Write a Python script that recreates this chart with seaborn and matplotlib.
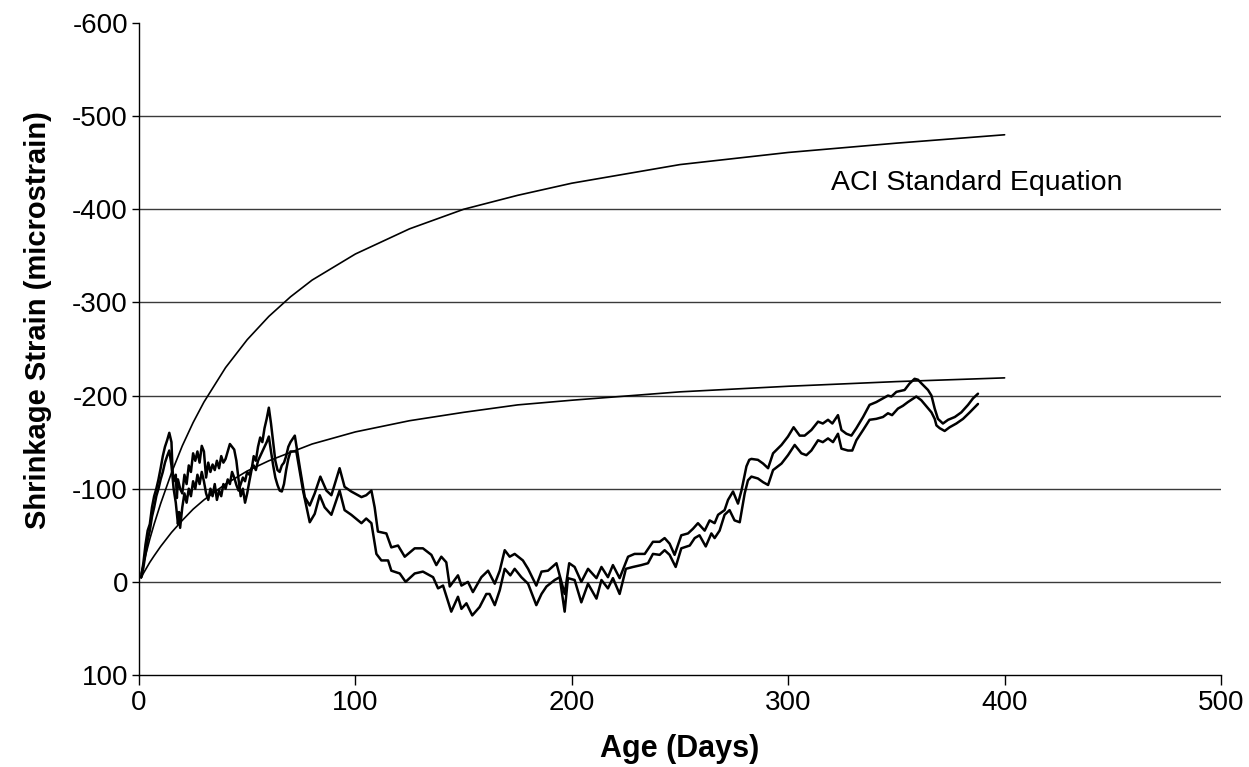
import matplotlib
matplotlib.use("Agg")
import matplotlib.pyplot as plt
import pandas as pd
import seaborn as sns

# ACI standard equation curves (ultimate shrinkage, two cases)
aci_days = [1, 2, 3, 5, 7, 10, 15, 20, 25, 30, 40, 50, 60, 70, 80, 100,
            125, 150, 175, 200, 250, 300, 350, 400]
aci_upper = [-9, -19, -28, -46, -62, -84, -117, -146, -171, -193, -230, -260,
             -285, -306, -324, -352, -379, -400, -415, -428, -448, -461, -471, -480]
aci_lower = [-4, -9, -13, -21, -28, -38, -53, -66, -78, -88, -105, -119,
             -130, -139, -148, -161, -173, -182, -190, -195, -204, -210, -215, -219]

# Measured gauge 1
gauge1_days = [1, 2, 3, 4, 5, 6, 7, 8, 9, 10, 11, 12, 13, 14, 15, 15.5, 16, 17, 17.5,
               18, 19, 20, 21, 22, 23, 24, 25, 26, 27, 28, 29, 30, 31, 32, 33, 34, 35,
               36, 37, 38, 39, 40, 41, 42, 43, 44, 45, 46, 47, 48, 49, 50, 51, 52, 53,
               54, 55, 56, 57, 58, 59, 60, 61, 62, 63, 64, 65, 66, 67, 68, 69, 70, 72,
               74.3, 76.6, 78.9, 81.2, 83.8, 86.6, 88.9, 92.7, 95, 98.1, 102.8, 105,
               107.4, 108.9, 110.4, 114.3, 116.6, 119.7, 122.8, 127.4, 131.2, 135.1,
               137.4, 139.7, 142, 143.6, 147.4, 149, 152, 154.3, 158.2, 161.3, 164.4,
               166.7, 169, 171.3, 173.6, 177.4, 179.8, 183.6, 186, 189, 192.9, 196.7,
               198.8, 201.3, 204.4, 207.5, 211.4, 213.7, 216.7, 219, 222.1, 226, 229,
               233.7, 237.5, 240.6, 242.9, 245.2, 247.5, 250.6, 253.7, 256, 258.3,
               261.4, 263.7, 266, 267.6, 270.6, 272.2, 274.5, 276.8, 278.4, 280.7, 282,
               283, 286, 288.4, 290.7, 293, 296.9, 299.9, 302.5, 305.3, 307.6, 310.7,
               313.8, 316, 318.4, 320.4, 323, 324.6, 326.9, 329.2, 331.5, 334.6, 337.6,
               340.7, 343.8, 346.1, 347.7, 350, 353.8, 356.1, 358.4, 360, 361.6, 364.6,
               366.2, 367.7, 369.2, 371.5, 373.9, 377, 380, 383.1, 385.4, 387.7]
gauge1_strain = [-5, -20, -40, -55, -62, -80, -92, -100, -110, -122, -135, -145, -152,
                 -160, -150, -120, -108, -115, -90, -110, -100, -95, -115, -105, -125,
                 -118, -138, -130, -140, -128, -146, -140, -112, -128, -118, -126, -120,
                 -130, -122, -135, -128, -132, -140, -148, -145, -142, -130, -110, -92,
                 -100, -85, -95, -108, -120, -135, -130, -145, -155, -150, -165, -175,
                 -187, -170, -150, -130, -120, -118, -125, -128, -135, -145, -150, -157,
                 -123, -91, -82, -95, -113, -98, -93, -122, -102, -97, -91, -93,
                 -98, -80, -54, -52, -37, -39, -27, -36, -36, -29,
                 -18, -27, -21, 5, -7, 4, 0, 11, -5, -12, 2,
                 -12, -34, -27, -30, -23, -14, 4, -11, -12, -20, 13,
                 -20, -16, 0, -14, -4, -16, -5, -18, -4, -27, -30,
                 -30, -43, -43, -47, -41, -29, -50, -52, -57, -63,
                 -55, -66, -63, -72, -77, -88, -97, -84, -98, -124, -131,
                 -132, -131, -127, -122, -138, -147, -156, -166, -157, -157, -163,
                 -172, -170, -174, -170, -179, -163, -159, -157, -165, -177, -190,
                 -193, -197, -200, -199, -204, -206, -213, -218, -217, -213, -206,
                 -200, -186, -175, -170, -174, -177, -182, -190, -197, -202]

# Measured gauge 2
gauge2_days = [1, 2, 3, 4, 5, 6, 7, 8, 9, 10, 11, 12, 13, 14, 15, 16, 17, 18, 18.5, 19,
               20, 21, 22, 23, 24, 25, 26, 27, 28, 29, 30, 31, 32, 33, 34, 35, 36, 37,
               38, 39, 40, 41, 42, 43, 44, 45, 46, 47, 48, 49, 50, 51, 52, 53, 54, 55,
               56, 57, 58, 59, 60, 61, 62, 63, 64, 65, 66, 67, 68, 69, 70, 72.7, 75.8,
               78.9, 81.2, 83.5, 85.8, 88.9, 92.7, 95, 98.1, 102.8, 105, 107.4, 109.7,
               112, 115.1, 116.6, 120.5, 123.2, 127.4, 131.2, 135.9, 138.2, 140.5,
               144.3, 147.4, 149, 151.3, 154, 157.4, 160.5, 162, 164.4, 166.7, 169,
               171.6, 173.6, 176.7, 179.8, 183.6, 186, 188.3, 192.1, 194.4, 196.7,
               198.2, 201.3, 204.4, 207.5, 211.4, 213.7, 216.7, 219, 222.1, 225, 228.3,
               232.1, 235.2, 237.5, 240.6, 242.9, 245.2, 248, 250.6, 254.5, 256.8, 259,
               261.9, 264.5, 266, 268.3, 270.6, 272.9, 275.2, 277.6, 279.9, 281.4, 283,
               286, 288.4, 290.7, 293, 296.9, 299.9, 303, 306.1, 308.4, 310.7, 313.8,
               316, 318.4, 320.7, 323, 324.6, 327.6, 329.6, 331.5, 334.6, 337.6, 340.7,
               343.8, 346.1, 348, 350.7, 353, 355.3, 359.2, 361.5, 364, 366.2, 367.7,
               368.5, 370, 372.3, 374.6, 377.7, 380.8, 383.9, 387.7]
gauge2_strain = [-5, -15, -30, -45, -55, -70, -80, -92, -100, -110, -118, -128, -135,
                 -141, -125, -100, -85, -62, -75, -58, -80, -95, -85, -100, -92, -108,
                 -100, -115, -105, -118, -108, -95, -88, -100, -92, -105, -88, -98,
                 -92, -105, -100, -110, -105, -118, -112, -104, -98, -105, -112, -108,
                 -118, -115, -122, -125, -120, -130, -135, -140, -145, -150, -156,
                 -140, -125, -112, -104, -98, -97, -105, -120, -132, -140, -140, -98,
                 -64, -73, -93, -80, -72, -98, -77, -72, -63, -68, -63, -30,
                 -23, -23, -12, -9, 0, -9, -11, -5, 7, 4,
                 32, 16, 29, 23, 36, 27, 13, 13, 25, 9, -14,
                 -7, -14, -5, 2, 25, 13, 5, -2, -5, 32,
                 -4, -2, 22, 2, 18, -2, 7, -4, 13, -14, -16,
                 -18, -20, -30, -29, -34, -29, -16, -36, -39, -47, -50,
                 -38, -52, -47, -55, -72, -77, -66, -64, -95, -109, -113,
                 -111, -107, -104, -120, -127, -136, -147, -138, -136, -141, -152,
                 -150, -154, -150, -159, -143, -141, -141, -152, -163, -174, -175,
                 -177, -181, -179, -186, -189, -193, -199, -195, -188, -182, -175,
                 -168, -165, -162, -166, -170, -175, -182, -191]

x_ticks = [0, 100, 200, 300, 400, 500]
y_ticks = [-600, -500, -400, -300, -200, -100, 0, 100]
grid_levels = [-500, -400, -300, -200, -100, 0]

aci_df = pd.DataFrame({"Age": aci_days, "Upper": aci_upper, "Lower": aci_lower})
g1_df = pd.DataFrame({"Age": gauge1_days, "Strain": gauge1_strain})
g2_df = pd.DataFrame({"Age": gauge2_days, "Strain": gauge2_strain})

sns.set_theme(style="white")
plt.rcParams["font.family"] = ["Liberation Sans", "DejaVu Sans"]
plt.rcParams["text.color"] = "black"
plt.rcParams["axes.labelcolor"] = "black"
plt.rcParams["xtick.color"] = "black"
plt.rcParams["ytick.color"] = "black"

fig = plt.figure(figsize=(12.49, 7.67), dpi=100)
ax = fig.add_axes([139 / 1249, 1 - 675 / 767, (1221 - 139) / 1249, (675 - 23) / 767])

# horizontal gridlines (none along the top edge)
for lvl in grid_levels:
    ax.axhline(lvl, color="#3a3a3a", lw=1.0, zorder=0)

sns.lineplot(data=aci_df, x="Age", y="Upper", ax=ax, color="black", lw=1.2,
             sort=False, estimator=None)
sns.lineplot(data=aci_df, x="Age", y="Lower", ax=ax, color="black", lw=1.2,
             sort=False, estimator=None)
sns.lineplot(data=g1_df, x="Age", y="Strain", ax=ax, color="black", lw=1.8,
             sort=False, estimator=None)
sns.lineplot(data=g2_df, x="Age", y="Strain", ax=ax, color="black", lw=1.8,
             sort=False, estimator=None)

ax.set_xlim(0, 500)
ax.set_ylim(100, -600)
ax.set_xticks(x_ticks)
ax.set_yticks(y_ticks)
ax.set_xticklabels([str(v) for v in x_ticks])
ax.set_yticklabels([str(v) for v in y_ticks])
ax.grid(False)

for side in ("top", "right"):
    ax.spines[side].set_visible(False)
for side in ("left", "bottom"):
    ax.spines[side].set_color("black")
    ax.spines[side].set_linewidth(1.0)

ax.tick_params(axis="y", which="major", direction="out", length=5, width=1.0,
               color="black", labelcolor="black", labelsize=20, pad=3, left=True)
ax.tick_params(axis="x", which="major", direction="out", length=7, width=1.0,
               color="black", labelcolor="black", labelsize=20, pad=4, bottom=True)

ax.set_xlabel("Age (Days)", fontsize=22, fontweight="bold", color="black")
ax.set_ylabel("Shrinkage Strain (microstrain)", fontsize=21, fontweight="bold",
              color="black")
ax.xaxis.label.set_verticalalignment("center")
ax.xaxis.set_label_coords(0.5, -0.113)
ax.yaxis.set_label_coords(-0.08, 0.544)

ax.text(320, -428, "ACI Standard Equation", fontsize=20.5, va="center", ha="left",
        color="black")

fig.savefig("out.png", dpi=100)
